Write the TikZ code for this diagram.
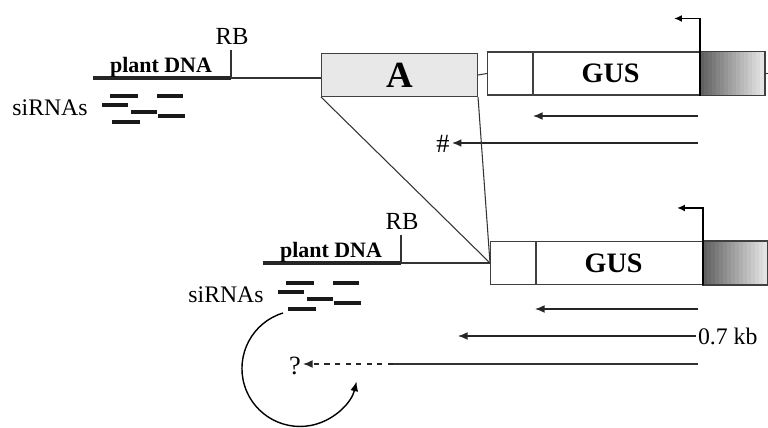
\documentclass[tikz,border=0pt]{standalone}
\usepackage{fontspec}
\setmainfont{Liberation Serif}
\usetikzlibrary{calc,arrows.meta}
\tikzstyle{box}=[rectangle, draw=black!75, line width=0.6pt, inner sep=0pt, minimum height=0.86cm, anchor=west]
\tikzstyle{annot}=[align=center, inner sep=1pt]
\tikzstyle{thinline}=[line width=0.6pt, draw=black!80]
\tikzstyle{dna}=[line width=2pt, draw=black!85]
\tikzstyle{sirna}=[line width=1.8pt, draw=black!90]
\tikzstyle{transcript}=[-{Latex[length=5.5pt,width=4.5pt]}, line width=0.8pt, draw=black!85]
\tikzstyle{promoter}=[-{Latex[length=4.5pt,width=4pt]}, line width=0.9pt]

% GUS reporter: leader, coding part, shaded 3' end
\newcommand{\drawgus}[3]
{
	\node[box, minimum width=0.9cm, fill=white](#1lead) at (#2,#3){};
	\node[box, minimum width=3.32cm, fill=white](#1gus) at (#1lead.east){};
	\node[annot, font=\bfseries\fontsize{16}{16}\selectfont](#1label) at ([xshift=-0.12cm]#1gus.center){GUS};
	\node[box, minimum width=1.28cm, draw=none](#1term) at (#1gus.east){};
	\foreach \i [evaluate=\i as \c using 62-3.4*\i] in {0,...,15}
		\fill[black!\c] ($(#1term.north west)+(4*\i,0)$) rectangle ($(#1term.south west)+(4*\i+4.4,0)$);
	\draw[line width=0.7pt, draw=black!75] (#1term.north west) rectangle (#1term.south east);
	\draw[line width=0.9pt] (#1term.north west) -- (#1term.south west);
	\draw[promoter] (#1term.north west) -- ++(0,-33) -- ++(-26,0);
	\draw[thinline] (#1term.east) -- ++(8,0);
}

% plant DNA with the right border
\newcommand{\drawplant}[3]
{
	\coordinate (#1rb) at (#2,#3);
	\draw[dna] ($(#1rb)+(-138,0)$) -- (#1rb);
	\draw[thinline] (#1rb) -- ++(0,-28);
	\node[annot, anchor=base, font=\fontsize{14}{14}\selectfont](#1rblabel) at ($(#1rb)+(1,-33)$){RB};
	\node[annot, anchor=base, font=\bfseries\fontsize{12.5}{12.5}\selectfont](#1dnalabel) at ($(#1rb)+(-70,-5)$){plant DNA};
}

% small RNAs next to their label
\newcommand{\drawsirnas}[3]
{
	\node[annot, font=\fontsize{13.5}{13.5}\selectfont](#1) at (#2,#3){siRNAs};
	\begin{scope}[shift={($(#1)+(60,-12)$)}]
		\draw[sirna] (0,0) -- (28,0);
		\draw[sirna] (47,0) -- (73,0);
		\draw[sirna] (-8,9) -- (18,9);
		\draw[sirna] (21,16) -- (47,16);
		\draw[sirna] (48,20) -- (75,20);
		\draw[sirna] (2,26) -- (30,26);
	\end{scope}
}

\begin{document}
\begin{tikzpicture}[x=0.02cm, y=-0.02cm]
	\useasboundingbox (0,0) rectangle (768,428);

	% upper construct
	\drawplant{up}{231}{78}
	\drawsirnas{sirup}{50}{108}
	\node[box, minimum width=3.12cm, fill=black!9, font=\bfseries\fontsize{21}{21}\selectfont](boxA) at (321,75){A};
	\draw[thinline] (uprb) -- (boxA.west |- uprb);
	\drawgus{one}{487}{73.5}
	\draw[thinline] (boxA.east) -- (onelead.west);

	\coordinate (ta) at (698,116);
	\coordinate (tae) at (533,116);
	\draw[transcript] (ta) -- (tae);
	\node[annot, font=\fontsize{15}{15}\selectfont](hash) at (443,144){\#};
	\coordinate (tb) at (698,143);
	\draw[transcript, line width=1.2pt] (tb) -- (hash.east |- tb);

	% lower construct, A removed
	\drawplant{low}{401}{263}
	\drawsirnas{sirlow}{226}{295}
	\drawgus{two}{490}{263}
	\draw[thinline] (lowrb) -- (twolead.west);
	\draw[thinline] (boxA.south west) -- (twolead.west);
	\draw[thinline] (boxA.south east) -- (twolead.west);

	\coordinate (tc) at (698,309);
	\coordinate (tce) at (535,309);
	\draw[transcript] (tc) -- (tce);
	\node[annot, anchor=west, font=\fontsize{13.5}{13.5}\selectfont](kb) at (696,336){0.7 kb};
	\coordinate (tde) at (458,336);
	\draw[transcript] (kb.west) -- (tde);
	\node[annot, font=\fontsize{15}{15}\selectfont](qmark) at (295,366){?};
	\coordinate (te) at (698,364);
	\coordinate (tem) at (393,364);
	\draw[thinline] (te) -- (tem);
	\draw[transcript, dashed] (tem) -- (qmark.east |- tem);

	% feedback loop round the question mark
	\coordinate (loop) at (283,313);
	\draw[-{Latex[length=5.5pt,width=4.5pt]}, line width=0.8pt] (loop) arc[start angle=253, end angle=13, radius=58];
\end{tikzpicture}
\end{document}
